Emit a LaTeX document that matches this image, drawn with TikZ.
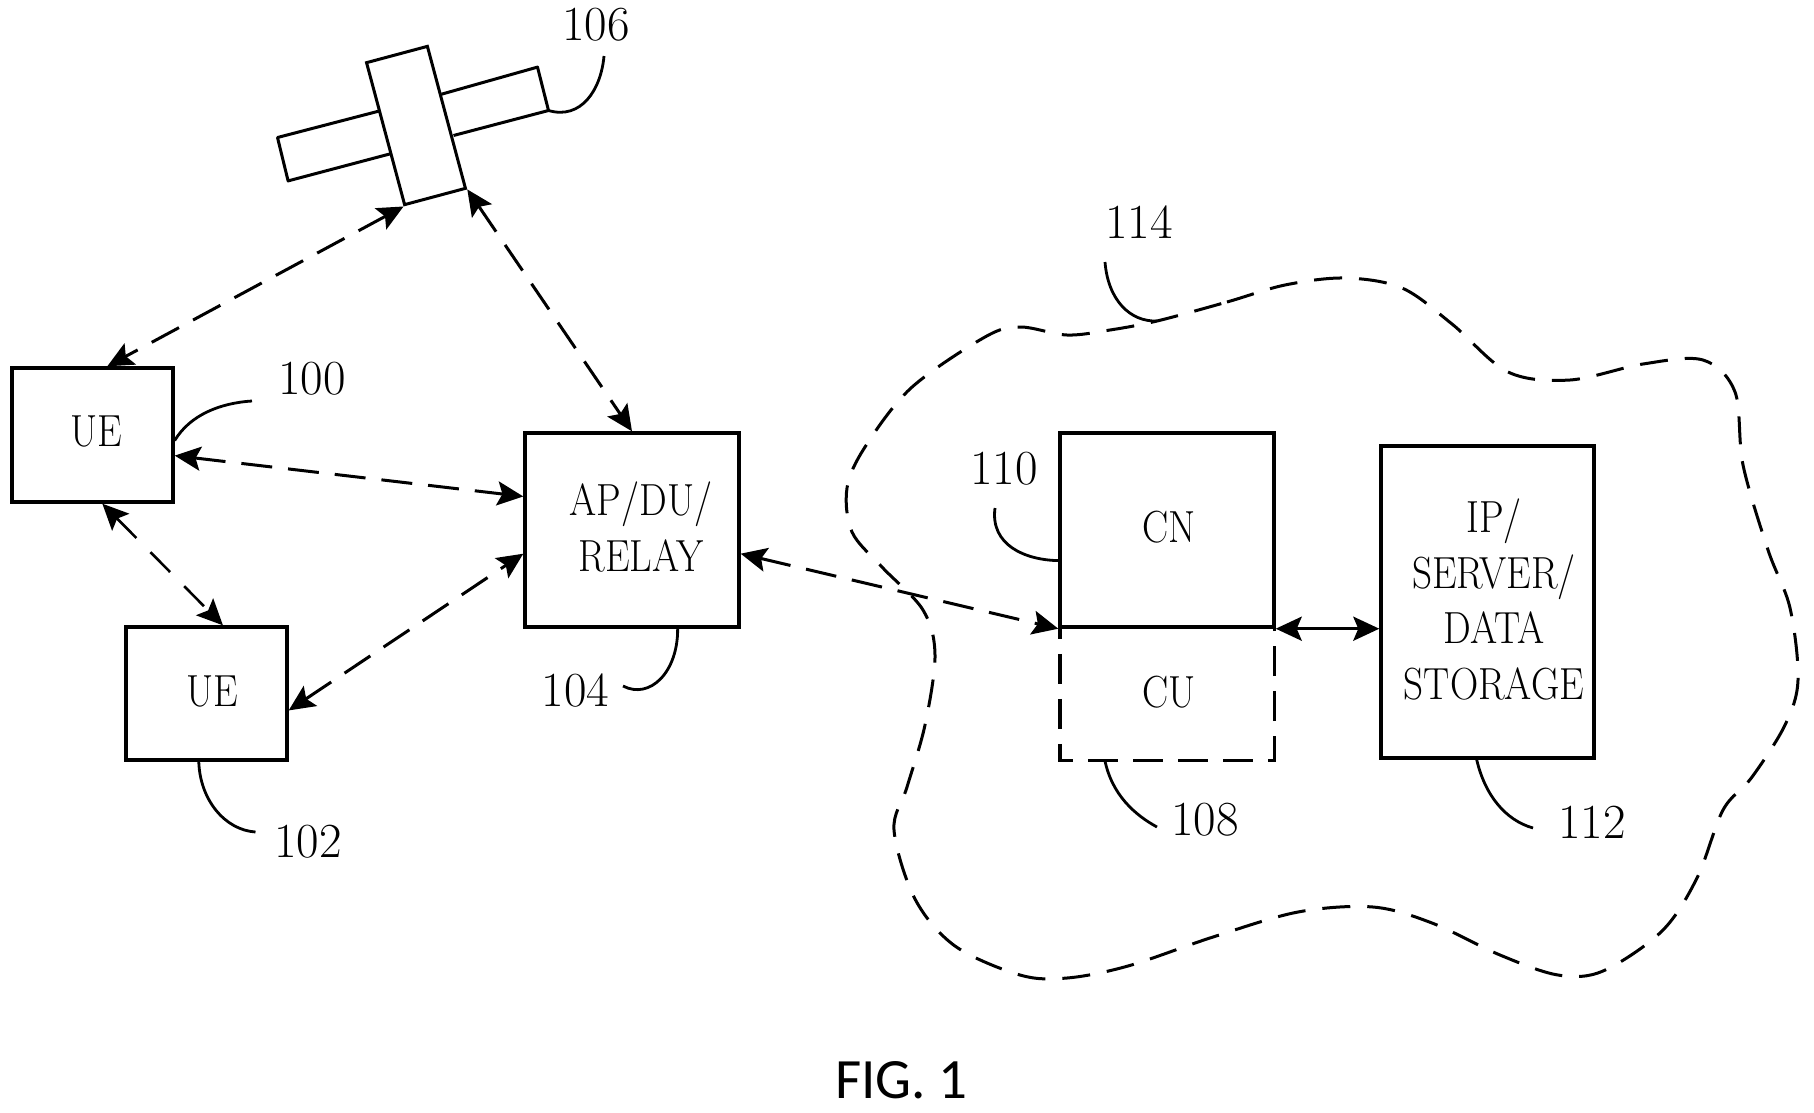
\documentclass[tikz,border=0pt]{standalone}
\usepackage{fontspec}
\usepackage{graphicx}
\newfontfamily\figfont{Carlito}
\usetikzlibrary{arrows.meta,calc}
\newcommand{\narrowed}[1]{\scalebox{0.87}[1]{#1}}
\tikzset{
  box/.style={draw=black,line width=3.4pt,inner sep=0pt},
  txt/.style={inner sep=0pt,align=center,font=\fontsize{45}{55.5}\selectfont},
  num/.style={inner sep=0pt,font=\fontsize{49}{52}\selectfont},
  tipped/.style={{Stealth[length=26pt,width=24pt,inset=5pt]}-{Stealth[length=26pt,width=24pt,inset=5pt]}},
  link/.style={tipped,line width=3pt,dash pattern=on 31pt off 16pt},
  lead/.style={line width=2.8pt},
  satpart/.style={line width=3pt,line join=round}
}
\begin{document}
\begin{tikzpicture}[x=1pt,y=-1pt]
\useasboundingbox (0,0) rectangle (1814,1112);
\fill[white] (0,0) rectangle (1814,1112);
% boxes
\node[box,minimum width=161pt,minimum height=134pt] (ue1) at (92.5,435) {};
\node[txt] (ue1t) at (96,431) {\narrowed{UE}};
\node[box,minimum width=161pt,minimum height=133pt] (ue2) at (206.5,693.5) {};
\node[txt] (ue2t) at (212,691) {\narrowed{UE}};
\node[box,minimum width=214pt,minimum height=194pt] (ap) at (632,530) {};
\node[txt] (apt) at (641,527) {\narrowed{AP/DU/}\\\narrowed{RELAY}};
\node[box,minimum width=214pt,minimum height=194pt] (cn) at (1167,530) {};
\node[txt] (cnt) at (1169,527) {\narrowed{CN}};
\node[inner sep=0pt,minimum width=214pt,minimum height=133pt] (cu) at (1167,693.5) {};
\node[txt] (cut) at (1169,692) {\narrowed{CU}};
\draw[line width=3.4pt,dash pattern=on 30pt off 15pt,dash phase=18pt] (cu.north west) -- (cu.south west) -- (cu.south east) -- (cu.north east);
\node[box,minimum width=213pt,minimum height=312pt] (ip) at (1487.5,602) {};
\node[txt] (ipt) at (1494,599.5) {\narrowed{IP/}\\\narrowed{SERVER/}\\\narrowed{DATA}\\\narrowed{STORAGE}};
% satellite
\node[draw=black,line width=3pt,inner sep=0pt,minimum width=63pt,minimum height=147pt,rotate=15] (sat) at (416,125.5) {};
\coordinate (wr1) at (441.5,94.2);
\coordinate (wr2) at (537.5,67.1);
\coordinate (wr3) at (548.5,110.5);
\coordinate (wr4) at (453.5,135.5);
\coordinate (wl1) at (378.5,111.2);
\coordinate (wl2) at (277.5,137.5);
\coordinate (wl3) at (288.1,180.9);
\coordinate (wl4) at (391.5,153.5);
\draw[satpart] (wr1) -- (wr2) -- (wr3) -- (wr4);
\draw[satpart] (wl1) -- (wl2) -- (wl3) -- (wl4);
% links
\draw[link] (sat.south west) -- ($(ue1.north west)!0.59!(ue1.north east)$);
\draw[link] (sat.south east) -- ($(ap.north west)!0.5!(ap.north east)$);
\draw[link] ($(ue1.north east)!0.65!(ue1.south east)$) -- ($(ap.north west)!0.33!(ap.south west)$);
\draw[tipped,line width=2.6pt,dash pattern=on 28pt off 20pt] ($(ue1.south west)!0.56!(ue1.south east)$) -- ($(ue2.north west)!0.6!(ue2.north east)$);
\draw[link] ($(ue2.north east)!0.624!(ue2.south east)$) -- ($(ap.north west)!0.62!(ap.south west)$);
\draw[link] ($(ap.north east)!0.62!(ap.south east)$) -- (cn.south west);
\draw[tipped,solid,line width=3.4pt] (cn.south east) -- (ip.west |- cn.south east);
% cloud
\coordinate (c114) at (1157,321);
\draw[line width=3pt,dash pattern=on 28pt off 17pt] plot[smooth cycle,tension=0.55] coordinates {
 (c114) (1227,302) (1285,285) (1345,278) (1402,288) (1452,324) (1508,372) (1570,380) (1643,364) (1703,360) (1735,392) (1743,465) (1768,550) (1790,608) (1798,680) (1785,725) (1752,777) (1723,810) (1697,878) (1662,931) (1603,971) (1558,975) (1500,955) (1432,923) (1373,907) (1298,912) (1213,937) (1128,966) (1067,978) (1020,975) (955,946) (915,899) (894,830) (907,787) (925,725) (935,655) (923,610) (882,567) (852,532) (847,488) (865,447) (911,388) (985,337) (1020,327) (1067,335) (1110,330)};
% numerals
\node[num] (n106) at (596,25) {106};
\node[num] (n100) at (312,378.5) {100};
\node[num] (n104) at (575.5,690.5) {104};
\node[num] (n102) at (308,842) {102};
\node[num] (n114) at (1139,222) {114};
\node[num] (n110) at (1004,469) {110};
\node[num] (n108) at (1205,820) {108};
\node[num] (n112) at (1592,822) {112};
\node[inner sep=0pt,font=\figfont\fontsize{57}{60}\selectfont] (fig) at (901.5,1080) {FIG. 1};
% leaders
\coordinate (l106) at (604,56);
\coordinate (l100) at (252,401);
\coordinate (l104) at (623,686);
\coordinate (l102) at (255.5,832);
\coordinate (l114) at (1105,262);
\coordinate (l110) at (995,508);
\coordinate (l108) at (1157,827);
\coordinate (l112) at (1533,828);
\draw[lead] (wr3) .. controls (581,120) and (601,90) .. (l106);
\draw[lead] ($(ue1.north east)!0.54!(ue1.south east)$) .. controls (190,415) and (220,403) .. (l100);
\draw[lead] ($(ap.south west)!0.71!(ap.south east)$) .. controls (678,672) and (650,700) .. (l104);
\draw[lead] ($(ue2.south west)!0.453!(ue2.south east)$) .. controls (200,800) and (225,830) .. (l102);
\draw[lead] (l114) .. controls (1108,300) and (1130,322) .. (c114);
\draw[lead] (l110) .. controls (990,545) and (1025,560) .. ($(cn.north west)!0.655!(cn.south west)$);
\draw[lead] ($(cu.south west)!0.21!(cu.south east)$) .. controls (1112,795) and (1135,815) .. (l108);
\draw[lead] ($(ip.south west)!0.45!(ip.south east)$) .. controls (1485,795) and (1505,820) .. (l112);
\end{tikzpicture}
\end{document}
